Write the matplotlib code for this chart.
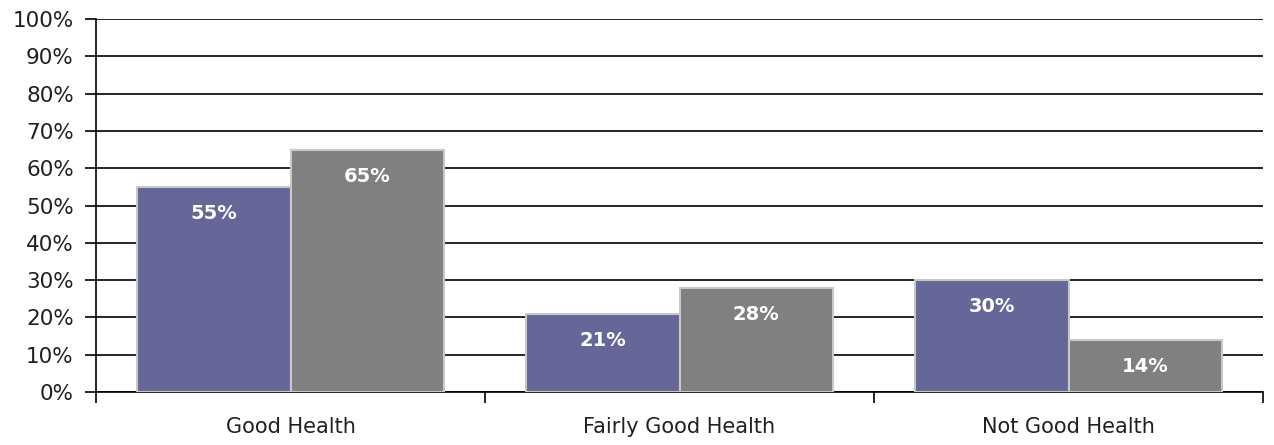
import matplotlib.pyplot as plt
import numpy as np

categories = ["Good Health", "Fairly Good Health", "Not Good Health"]
series_a = [55, 21, 30]
series_b = [65, 28, 14]
y_ticks = list(range(0, 101, 10))

plt.rcParams["font.family"] = ["DejaVu Sans"]

fig = plt.figure(figsize=(12.74, 4.45), dpi=100)
ax = fig.add_axes([96 / 1274, 1 - 392 / 445, (1263 - 96) / 1274, (392 - 19) / 445])

x = np.arange(len(categories))
w = 0.395
bars_a = ax.bar(x - w / 2, series_a, w, color="#666699", edgecolor="#c8c8c8", linewidth=1.5, zorder=3)
bars_b = ax.bar(x + w / 2, series_b, w, color="#808080", edgecolor="#c8c8c8", linewidth=1.5, zorder=3)

for bars in (bars_a, bars_b):
    for b in bars:
        h = b.get_height()
        ax.text(b.get_x() + b.get_width() / 2, h - 7.2, f"{h:.0f}%", ha="center", va="center",
                color="white", fontsize=14, fontweight="bold", zorder=4)

ax.set_xlim(-0.5, 2.5)
ax.set_ylim(0, 100)
ax.set_yticks(y_ticks)
ax.set_yticklabels([f"{v}%" for v in y_ticks], fontsize=15.5, color="#202020")
ax.yaxis.grid(True, color="black", linewidth=1.2, zorder=0)
ax.set_axisbelow(True)

ax.set_xticks([-0.5, 0.5, 1.5, 2.5])
ax.set_xticklabels([])
ax.set_xticks(x, minor=True)
ax.set_xticklabels(categories, minor=True, fontsize=15, color="#202020")
ax.tick_params(axis="x", which="minor", length=0, pad=18)
ax.tick_params(axis="x", which="major", length=8, width=1.2, color="black")
ax.tick_params(axis="y", length=8, width=1.2, color="black", pad=8)

for s in ("top", "right"):
    ax.spines[s].set_visible(False)
ax.spines["left"].set_linewidth(1.2)
ax.spines["bottom"].set_linewidth(1.2)

fig.savefig("out.png", dpi=100)
